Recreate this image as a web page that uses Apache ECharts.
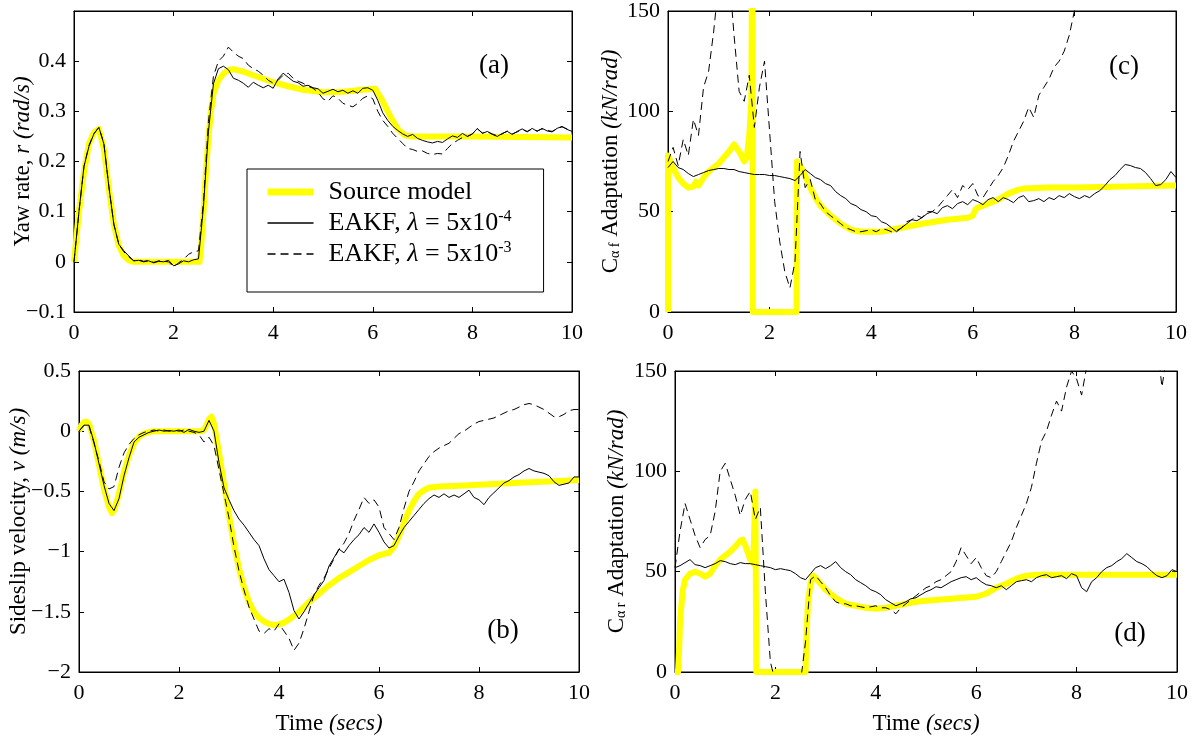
<!DOCTYPE html>
<html><head><meta charset="utf-8">
<script src="https://cdn.jsdelivr.net/npm/echarts@6/dist/echarts.min.js"></script>
<style>html,body{margin:0;padding:0;background:#fff}#c{width:1200px;height:740px}</style>
</head><body><div id="c"></div>
<script>
// ---------- data ----------
// shared x-axis tick labels
const xTicks = [0, 2, 4, 6, 8, 10];

// (a) Yaw rate
const aSrcT = [0,0.1,0.2,0.3,0.4,0.5,0.6,0.7,0.8,0.9,1.0,1.1,1.2,2.52,2.56,2.6,2.65,2.7,2.75,2.8,2.9,3.0,3.1,3.2,3.4,3.6,3.8,4.0,4.3,4.6,5.0,5.4,5.8,6.05,6.2,6.35,6.5,6.65,6.8,7.0,8.0,9.0,10];
const aSrcV = [0,0.1,0.18,0.235,0.258,0.265,0.225,0.145,0.075,0.032,0.012,0.003,0,0,0.04,0.1,0.18,0.25,0.3,0.335,0.362,0.375,0.382,0.384,0.379,0.372,0.365,0.358,0.35,0.343,0.338,0.339,0.343,0.345,0.32,0.29,0.265,0.252,0.25,0.25,0.25,0.249,0.248];
const aSolid = [0.0,0.1,0.19,0.23,0.255,0.268,0.235,0.15,0.075,0.035,
0.022,0.012,0.002,0.003,0.0,0.002,-0.002,0.001,0.0,0.003,
-0.008,-0.004,0.002,0.0,0.004,0.006,0.11,0.26,0.355,0.385,
0.39,0.383,0.366,0.362,0.356,0.348,0.358,0.352,0.347,0.352,
0.346,0.365,0.376,0.368,0.36,0.357,0.35,0.352,0.347,0.345,
0.336,0.34,0.344,0.339,0.342,0.336,0.341,0.336,0.346,0.347,
0.342,0.322,0.297,0.282,0.27,0.262,0.255,0.25,0.254,0.246,
0.242,0.239,0.237,0.24,0.238,0.245,0.251,0.248,0.256,0.25,
0.255,0.266,0.256,0.26,0.254,0.25,0.256,0.26,0.254,0.26,
0.265,0.259,0.266,0.26,0.266,0.261,0.259,0.266,0.27,0.264,
0.26];
const aDashed = [0.0,0.1,0.19,0.232,0.256,0.268,0.236,0.15,0.075,0.035,
0.02,0.01,0.002,0.004,0.001,0.003,-0.001,0.002,0.001,0.0,
-0.01,-0.002,0.005,0.015,0.02,0.022,0.12,0.28,0.37,0.4,
0.41,0.428,0.418,0.41,0.405,0.392,0.385,0.38,0.372,0.362,
0.356,0.362,0.372,0.376,0.366,0.36,0.356,0.35,0.346,0.338,
0.325,0.32,0.331,0.326,0.316,0.312,0.309,0.316,0.326,0.331,
0.325,0.3,0.282,0.27,0.256,0.246,0.236,0.226,0.224,0.22,
0.221,0.216,0.214,0.216,0.215,0.226,0.236,0.242,0.248,0.25,
0.255,0.265,0.257,0.259,0.255,0.251,0.255,0.261,0.255,0.259,
0.264,0.26,0.265,0.261,0.265,0.262,0.26,0.265,0.269,0.265,
0.26];

// (b) Sideslip velocity
const bSrcT = [0,0.05,0.1,0.15,0.2,0.3,0.4,0.5,0.6,0.66,0.7,0.8,0.9,1.0,1.1,1.2,1.3,1.4,1.5,2.45,2.5,2.55,2.6,2.65,2.7,2.8,2.9,3.0,3.1,3.2,3.3,3.4,3.5,3.6,3.7,3.8,3.9,4.0,4.1,4.2,4.4,4.6,4.8,5.0,5.2,5.4,5.6,5.8,6.0,6.1,6.2,6.3,6.4,6.5,6.6,6.7,6.8,6.9,7.0,7.2,7.5,8.0,8.5,9.0,9.5,10];
const bSrcV = [0,0.05,0.075,0.08,0.06,-0.08,-0.28,-0.48,-0.63,-0.68,-0.66,-0.52,-0.34,-0.2,-0.1,-0.045,-0.02,-0.008,0,0,0.01,0.05,0.1,0.12,0.06,-0.18,-0.44,-0.7,-0.94,-1.14,-1.3,-1.42,-1.5,-1.55,-1.58,-1.6,-1.61,-1.605,-1.59,-1.565,-1.5,-1.42,-1.35,-1.28,-1.22,-1.17,-1.12,-1.07,-1.03,-1.02,-1.01,-0.96,-0.87,-0.76,-0.66,-0.58,-0.52,-0.49,-0.47,-0.46,-0.455,-0.445,-0.435,-0.425,-0.415,-0.405];
const bSolid = [0.0,0.05,0.05,-0.09,-0.27,-0.45,-0.6,-0.66,-0.56,-0.37,
-0.22,-0.09,-0.05,-0.03,-0.01,0.0,0.01,0.0,0.005,0.0,
0.01,-0.01,0.015,0.0,-0.01,0.0,0.09,0.0,-0.26,-0.47,
-0.57,-0.66,-0.73,-0.78,-0.84,-0.9,-0.95,-1.06,-1.15,-1.2,
-1.25,-1.23,-1.34,-1.49,-1.56,-1.5,-1.43,-1.36,-1.3,-1.24,
-1.12,-1.05,-0.98,-1.01,-0.95,-0.9,-0.86,-0.8,-0.84,-0.77,
-0.84,-0.92,-0.97,-0.95,-0.87,-0.8,-0.75,-0.7,-0.65,-0.6,
-0.56,-0.53,-0.55,-0.52,-0.55,-0.53,-0.55,-0.52,-0.49,-0.55,
-0.57,-0.61,-0.55,-0.51,-0.47,-0.43,-0.41,-0.38,-0.36,-0.33,
-0.31,-0.33,-0.34,-0.35,-0.37,-0.42,-0.45,-0.44,-0.43,-0.38,
-0.38];
const bDashed = [0.0,0.05,0.04,-0.1,-0.25,-0.42,-0.48,-0.46,-0.3,-0.18,
-0.11,-0.06,-0.03,-0.01,0.0,0.01,0.0,0.01,0.0,0.01,
0.0,0.01,0.0,-0.01,-0.03,-0.09,-0.05,-0.12,-0.32,-0.52,
-0.72,-0.96,-1.16,-1.32,-1.46,-1.56,-1.66,-1.68,-1.64,-1.66,
-1.6,-1.66,-1.72,-1.82,-1.76,-1.64,-1.5,-1.36,-1.28,-1.22,
-1.14,-1.06,-0.98,-0.93,-0.85,-0.74,-0.65,-0.55,-0.6,-0.57,
-0.63,-0.8,-0.85,-0.9,-0.8,-0.64,-0.5,-0.42,-0.33,-0.27,
-0.21,-0.17,-0.14,-0.12,-0.1,-0.06,-0.02,0.0,0.03,0.06,
0.08,0.09,0.1,0.11,0.13,0.15,0.17,0.18,0.2,0.22,
0.23,0.22,0.2,0.18,0.15,0.12,0.12,0.14,0.17,0.18,
0.18];

// (c) C_alpha_f adaptation
const cSrcT = [0,0,0.05,0.1,0.2,0.3,0.4,0.5,0.55,0.6,0.7,0.8,0.9,1.0,1.1,1.2,1.3,1.4,1.5,1.55,1.6,1.64,1.66,1.67,2.53,2.54,2.6,2.7,2.8,2.9,3.0,3.2,3.4,3.6,3.8,4.0,4.2,4.4,4.6,4.8,5.0,5.5,5.9,6.0,6.05,6.1,6.3,6.5,6.7,6.9,7.0,7.5,8.0,9.0,10];
const cSrcV = [0,78,75,72,67,64,62,62.5,65,63,67,70,72,74,77,80,83.5,80,75,77,88,105,200,0,0,75,73,68,62,57,53,48,44,41,40,40,40,41,42,43,44,46,47,48,51,52,54,56,59,61,61.5,62,62,62.5,63];
const cSolid = [72,75,72,71,69,67.5,68.5,69.5,70.5,71,
71.5,71.5,71,71,70,69.5,69,68.5,68.5,68.5,
68,68,67.5,67,66.5,65.5,68,71,69,67,
66,64,63,60,58,56.5,54,53,51,50,
48,47.5,45,44,42,40,42,44,46,45.5,
47,49,50,49,52,53,51.5,54,55,53.5,
56,55,53.5,56,57,55,57,56,54.5,57,
58,55,55.5,56.5,55,57,56,58,57,59,
57.5,56.5,58,57,59,60.5,63,66,68,71,
73.5,73,72,71.5,69.5,66.5,63,63.5,66,70,
67];
const cDashed = [75,82,73,86,78,96,88,112,120,140,
165,180,170,138,110,105,118,92,112,125,
90,55,35,20,12,25,80,62,66,56,
54,50,48,46,44,42,41,40,40,40.5,
41,40,41.5,41,40,40.5,42,45,46,48,
47,50,50,52,55,58,61,57,63,61,
64,58,57,61,65,68,72,78,85,90,
95,102,97,108,112,116,122,125,130,138,
150,160,172,168,181,190,186,198,205,201,
214,222,219,231,238,236,247,252,249,260,
266];

// (d) C_alpha_r adaptation
const dSrcT = [0,0.06,0.08,0.1,0.15,0.2,0.3,0.4,0.5,0.6,0.7,0.8,0.9,1.0,1.1,1.2,1.3,1.35,1.4,1.5,1.56,1.6,1.61,1.62,2.6,2.62,2.65,2.7,2.75,2.8,2.9,3.0,3.2,3.4,3.6,3.8,4.0,4.2,4.4,4.6,4.8,5.0,5.5,6.0,6.2,6.4,6.6,6.8,7.0,7.2,7.5,8.0,9.0,10];
const dSrcV = [0,0,10,25,40,46,49,50,49,47.5,49,53,56,58,60,62.5,65.5,66,63,56,54,90,90,0,0,20,35,44,48,47,44,41,37,34,33,32,31.5,32,33,34,35,35.5,36.5,37.5,39,42,44,46.5,48,48.5,48.5,48.5,48.5,48.5];
const dSolid = [52,53,54.5,56,53.5,53,52,53,54,55.5,
55,54,53.5,54.5,54,54,53.5,53,52.5,52,
51,51.5,51,50.5,49,47,46,49,52,53,
51.5,53,55,52,50,48.5,46,44.5,43,41,
40,38.5,36,34.5,33,34,35,36.5,37,38.5,
40,41,42.5,42,43.5,45,46,47,47.5,46,
47,45,43.5,43,42,43,41,43,45,45.5,
46,45,47,48,48.5,47,47.5,48,46.5,49,
48,42,40,45,47,50,52,53,55,56.5,
59,57,55,54,52.5,50,48,47,48,51,
50];
const dDashed = [52,70,84,76,68,62,66,68,80,100,
104,96,88,78,86,90,76,82,40,5,
-5,-5,-5,-5,-5,-5,15,46,48,45,
42,38,35,34,34,33,33,32.5,32,32.5,
33,32,32,31,29,32,34,36,38,40,
42,43,45,46,48,50,55,62,58,54,
57,52,48,47,50,55,60,65,72,78,
84,92,104,115,120,128,135,130,142,150,
146,138,152,165,175,182,178,190,196,188,
201,195,205,199,190,184,165,142,158,170,
178];

// ---------- chart ----------
const FONT = 'Liberation Serif';
const YEL = '#ffff00';
const DT = 0.1;
const grids = [
  {left: 74,  top: 11,  width: 498, height: 301},  // a
  {left: 79,  top: 371, width: 500, height: 301},  // b
  {left: 668, top: 11,  width: 508, height: 301},  // c
  {left: 675, top: 371, width: 502, height: 301}   // d
];
const yRanges = [
  {min: -0.1, max: 0.5, interval: 0.1},
  {min: -2, max: 0.5, interval: 0.5},
  {min: 0, max: 150, interval: 50},
  {min: 0, max: 150, interval: 50}
];
const yNames = [
  '{n|Yaw rate, }{i|r (rad/s)}',
  '{n|Sideslip velocity, }{i|v (m/s)}',
  '{n|C}{s|\u03b1 f}{n| Adaptation }{i|(kN/rad)}',
  '{n|C}{s|\u03b1 r}{n| Adaptation }{i|(kN/rad)}'
];
const yGaps = [40, 49, 46, 47];
const TF = 23;
const richName = {
  n: {fontFamily: FONT, fontSize: TF, color: '#000'},
  i: {fontFamily: FONT, fontSize: TF, fontStyle: 'italic', color: '#000'},
  s: {fontFamily: FONT, fontSize: 14, color: '#000', verticalAlign: 'bottom'}
};
const richTick = {t: {fontFamily: FONT, fontSize: 22, color: '#000'}};
function fmt(v, hideTop, top) {
  const r = Math.round(v * 1000) / 1000;
  if (hideTop && Math.abs(r - top) < 1e-9) return '';
  return '{t|' + (r < 0 ? '\u2212' + (-r) : String(r)) + '}';
}
const axLine = {show: true, onZero: false, lineStyle: {color: '#000', width: 1}};
const axTick = {show: true, inside: true, length: 5, lineStyle: {color: '#000', width: 1}};
const tickFont = {color: '#000', fontFamily: FONT, fontSize: 22, fontWeight: 'normal', rich: richTick};
const xAxis = [], yAxis = [];
grids.forEach((g, gi) => {
  const bottomRow = gi === 1 || gi === 3;
  xAxis.push({
    type: 'value', gridIndex: gi, position: 'bottom', min: 0, max: 10, interval: 2,
    axisLine: axLine, axisTick: axTick, splitLine: {show: false},
    axisLabel: Object.assign({show: true, margin: 10,
      formatter: v => xTicks.indexOf(Math.round(v)) >= 0 ? '{t|' + Math.round(v) + '}' : ''}, tickFont),
    name: bottomRow ? '{n|Time }{i|(secs)}' : '',
    nameLocation: 'middle', nameGap: 40, nameMoveOverlap: false, nameTextStyle: {rich: richName}
  });
  xAxis.push({
    type: 'value', gridIndex: gi, position: 'top', min: 0, max: 10, interval: 2,
    axisLine: axLine, axisTick: axTick, splitLine: {show: false}, axisLabel: {show: false}
  });
  const yr = yRanges[gi];
  yAxis.push({
    type: 'value', gridIndex: gi, position: 'left', min: yr.min, max: yr.max, interval: yr.interval,
    axisLine: axLine, axisTick: axTick, splitLine: {show: false},
    axisLabel: Object.assign({show: true, margin: 8,
      formatter: v => fmt(v, gi === 0, yr.max)}, tickFont),
    name: yNames[gi], nameLocation: 'middle', nameRotate: 90, nameGap: yGaps[gi],
    nameMoveOverlap: false,
    nameTextStyle: {rich: richName}
  });
  yAxis.push({
    type: 'value', gridIndex: gi, position: 'right', min: yr.min, max: yr.max, interval: yr.interval,
    axisLine: axLine, axisTick: axTick, splitLine: {show: false}, axisLabel: {show: false}
  });
});

const panels = [
  {src: [aSrcT, aSrcV], solid: aSolid, dashed: aDashed},
  {src: [bSrcT, bSrcV], solid: bSolid, dashed: bDashed},
  {src: [cSrcT, cSrcV], solid: cSolid, dashed: cDashed},
  {src: [dSrcT, dSrcV], solid: dSolid, dashed: dDashed}
];
const series = [];
panels.forEach((p, gi) => {
  const common = {type: 'line', xAxisIndex: gi * 2, yAxisIndex: gi * 2, symbol: 'none',
    showSymbol: false, animation: false, clip: true, silent: true};
  series.push(Object.assign({}, common, {name: 'src',
    data: p.src[0].map((t, i) => [t, p.src[1][i]]),
    itemStyle: {color: YEL},
    lineStyle: {color: YEL, width: 6, cap: 'butt', join: 'round'}, z: 2}));
  series.push(Object.assign({}, common, {name: 'lam4',
    data: p.solid.map((v, i) => [i * DT, v]),
    itemStyle: {color: '#000'},
    lineStyle: {color: '#000', width: 1}, z: 3}));
  series.push(Object.assign({}, common, {name: 'lam3',
    data: p.dashed.map((v, i) => [i * DT, v]),
    itemStyle: {color: '#000'},
    lineStyle: {color: '#000', width: 1, type: [8, 5]}, z: 3}));
});

const legendLabels = {
  src: 'Source model',
  lam4: 'EAKF, {it|\u03bb} = 5x10{sup|-4}',
  lam3: 'EAKF, {it|\u03bb} = 5x10{sup|-3}'
};
const LF = 26;

const option = {
  backgroundColor: '#fff',
  animation: false,
  textStyle: {fontFamily: FONT, color: '#000'},
  grid: grids.map(g => Object.assign({show: true, borderColor: '#000', borderWidth: 1,
    backgroundColor: 'transparent', containLabel: false, outerBoundsMode: 'none'}, g)),
  xAxis, yAxis, series,
  legend: {
    show: true, orient: 'vertical', left: 247, top: 169,
    selectedMode: false,
    data: [
      {name: 'src', lineStyle: {width: 7, color: YEL}},
      {name: 'lam4', lineStyle: {width: 1.3, color: '#000'}},
      {name: 'lam3', lineStyle: {width: 1.3, color: '#000', type: [8, 5]}}
    ],
    itemStyle: {opacity: 0},
    itemWidth: 46, itemHeight: 14, itemGap: 3,
    formatter: name => legendLabels[name],
    textStyle: {fontFamily: FONT, fontSize: LF, color: '#000', padding: [0, 0, 0, 10], lineHeight: 28,
      rich: {
        it: {fontFamily: FONT, fontSize: LF, fontStyle: 'italic', color: '#000', lineHeight: 28},
        sup: {fontFamily: FONT, fontSize: 16, color: '#000', verticalAlign: 'top', lineHeight: 28}
      }},
    backgroundColor: '#fff', borderColor: '#000', borderWidth: 1, borderRadius: 0,
    padding: [9, 32, 24, 17]
  },
  graphic: [
    {type: 'text', x: 494, y: 66, style: {text: '(a)', fontFamily: FONT, fontSize: 27, fill: '#000', align: 'center', verticalAlign: 'middle'}},
    {type: 'text', x: 503, y: 631, style: {text: '(b)', fontFamily: FONT, fontSize: 27, fill: '#000', align: 'center', verticalAlign: 'middle'}},
    {type: 'text', x: 1124, y: 67, style: {text: '(c)', fontFamily: FONT, fontSize: 27, fill: '#000', align: 'center', verticalAlign: 'middle'}},
    {type: 'text', x: 1130, y: 634, style: {text: '(d)', fontFamily: FONT, fontSize: 27, fill: '#000', align: 'center', verticalAlign: 'middle'}}
  ]
};
const chart = echarts.init(document.getElementById('c'), null, {renderer: 'canvas'});
chart.setOption(option);
</script></body></html>
